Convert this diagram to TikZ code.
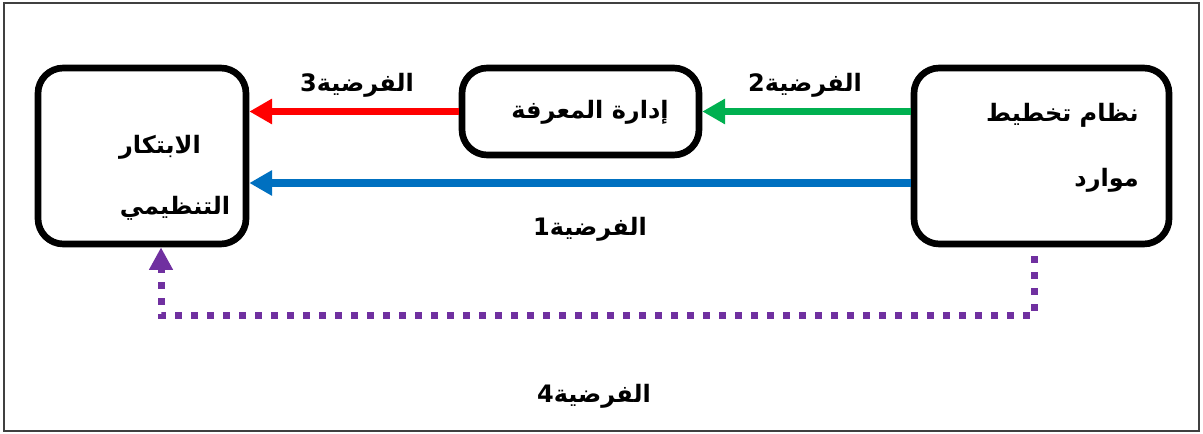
\documentclass[tikz,border=0pt]{standalone}
\usepackage{fontspec}
\usetikzlibrary{arrows.meta,calc}
\TeXXeTstate=1
\newfontfamily\arabicfont[Script=Arabic]{DejaVu Sans}
\definecolor{hred}{HTML}{FF0000}
\definecolor{hgreen}{HTML}{00B050}
\definecolor{hblue}{HTML}{0070C0}
\definecolor{hpurple}{HTML}{7030A0}
\tikzset{
  box/.style={draw=black, line width=5pt, rounded corners=19pt, fill=white, inner sep=0pt},
  txt/.style={font=\arabicfont\bfseries\fontsize{18}{21}\selectfont, inner sep=0pt},
  arr/.style={line width=5.5pt, -{Triangle[length=17pt,width=18pt]}},
  purp/.style={draw=hpurple, line width=5.25pt, dash pattern=on 5.25pt off 6.75pt,
    -{Triangle[length=17pt,width=17pt]}}
}
\begin{document}
\begin{tikzpicture}[x=0.75pt,y=-0.75pt]
\useasboundingbox (0,0) rectangle (1203,434);
\draw[line width=1.2pt, draw=black!75] (4,3) rectangle (1199,431);
% boxes
\node[box, minimum width=208*0.75pt, minimum height=176*0.75pt] (inn) at (142,156) {};
\node[box, minimum width=237*0.75pt, minimum height=87*0.75pt] (km) at (580.5,111.5) {};
\node[box, minimum width=255*0.75pt, minimum height=176*0.75pt] (rp) at (1041.5,156) {};
% box texts
\node[txt] (inn1) at (160,147) {\beginR الابتكار\endR};
\node[txt] (inn2) at (175,208) {\beginR التنظيمي\endR};
\node[txt] (km1) at (590,112) {\beginR إدارة المعرفة\endR};
\node[txt, anchor=east] (rp1) at (1139,115) {\beginR نظام تخطيط\endR};
\node[txt, anchor=east] (rp2) at (1139,180) {\beginR موارد\endR};
% connectors
\draw[arr, draw=hred] (km.west) -- (inn.east |- km.west);
\draw[arr, draw=hgreen] (rp.west |- km.east) -- (km.east);
\draw[arr, draw=hblue] ($(rp.west)+(0,27)$) -- ($(inn.east)+(0,27)$);
\coordinate (p0) at ($(rp.south)+(-7.5,9)$);
\coordinate (p1) at ($(inn.south)+(19,0)$);
\draw[purp] (p0) -- (p0 |- 0,316) -| (p1);
% labels
\node[txt] (h3) at (357,85) {\beginR الفرضية3\endR};
\node[txt] (h2) at (805,85) {\beginR الفرضية2\endR};
\node[txt] (h1) at (590,229) {\beginR الفرضية1\endR};
\node[txt] (h4) at (594,396) {\beginR الفرضية4\endR};
\end{tikzpicture}
\end{document}
